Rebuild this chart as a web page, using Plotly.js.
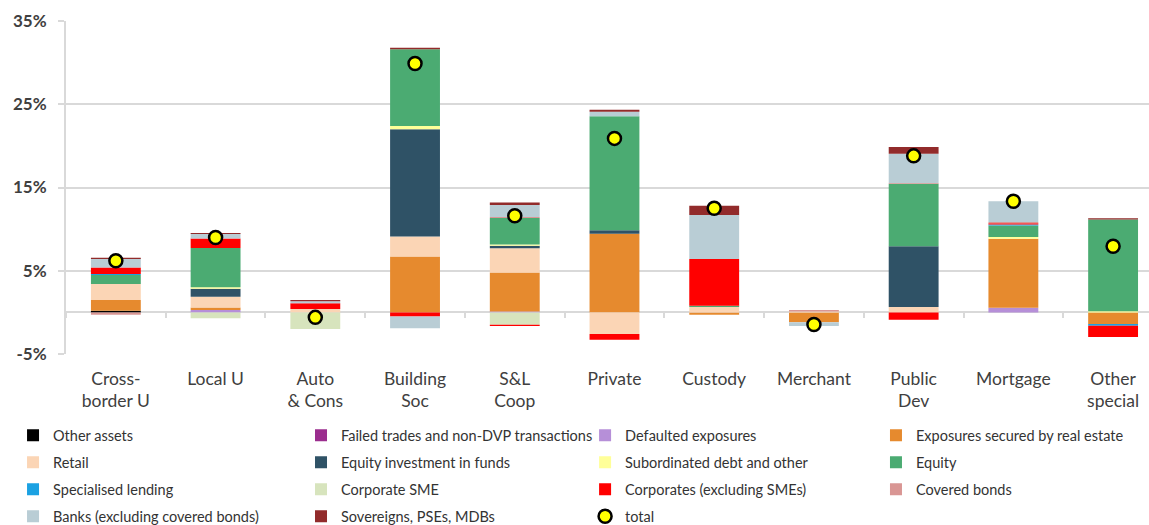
<!DOCTYPE html>
<html>
<head>
<meta charset="utf-8">
<script src="https://cdn.plot.ly/plotly-3.0.1.min.js"></script>
<style>html,body{margin:0;padding:0;background:#fff;}#chart{width:1149px;height:525px;}</style>
</head>
<body>
<div id="chart"></div>
<script>
// ---- DATA ----
const categories = ["Cross-<br>border U", "Local U", "Auto<br>& Cons", "Building<br>Soc", "S&L<br>Coop", "Private", "Custody", "Merchant", "Public<br>Dev", "Mortgage", "Other<br>special"];

const otherAssets          = [0.2, 0, 0, 0, 0, 0, 0, 0, 0, 0, 0];
const failedTrades         = [0, 0, 0, 0, 0, 0, 0, 0, 0, 0, 0];
const defaultedExposures   = [0, 0.3, 0, 0, 0.1, 0, 0, 0, 0, 0.55, 0];
const realEstate           = [1.3, 0.28, 0, 6.7, 4.7, 9.45, -0.3, -1.2, 0, 8.3, -1.4];
const retail               = [1.9, 1.3, 0.4, 2.4, 2.9, -2.6, 0.65, 0.1, 0.65, 0, 0];
const equityFunds          = [0, 0.95, 0, 12.9, 0.3, 0.4, 0, 0, 7.3, 0, 0];
const subordinatedDebt     = [0, 0.2, 0, 0.4, 0.15, 0, 0, 0, 0, 0.2, 0.15];
const equity               = [1.1, 4.7, 0, 9.2, 3.2, 13.7, 0.15, 0, 7.5, 1.4, 11.0];
const specialisedLending   = [0.1, 0, 0, 0, 0, 0, 0, 0, 0, 0.1, -0.2];
const corporateSME         = [0, -0.7, -2.0, 0, -1.5, 0, 0, 0, 0, 0, 0];
const corporates           = [0.8, 1.13, 0.7, -0.5, -0.15, -0.7, 5.6, 0, -0.9, 0.15, -1.35];
const coveredBonds         = [-0.3, 0, 0, 0, 0.1, 0, 0, 0.2, 0.1, 0.15, 0];
const banks                = [1.0, 0.55, 0.25, -1.4, 1.45, 0.55, 5.3, -0.45, 3.5, 2.5, 0];
const sovereigns           = [0.15, 0.12, 0.15, 0.2, 0.3, 0.25, 1.1, 0, 0.8, 0, 0.15];
const total                = [6.2, 9.0, -0.6, 29.9, 11.6, 20.9, 12.5, -1.45, 18.8, 13.35, 7.95];

const yTickValues = [-5, 5, 15, 25, 35];
const yTickLabels = ["-5%", "5%", "15%", "25%", "35%"];

const barSeries = [
  {name: "Other assets", values: otherAssets},
  {name: "Failed trades and non-DVP transactions", values: failedTrades},
  {name: "Defaulted exposures", values: defaultedExposures},
  {name: "Exposures secured by real estate", values: realEstate},
  {name: "Retail", values: retail},
  {name: "Equity investment in funds", values: equityFunds},
  {name: "Subordinated debt and other", values: subordinatedDebt},
  {name: "Equity", values: equity},
  {name: "Specialised lending", values: specialisedLending},
  {name: "Corporate SME", values: corporateSME},
  {name: "Corporates (excluding SMEs)", values: corporates},
  {name: "Covered bonds", values: coveredBonds},
  {name: "Banks (excluding covered bonds)", values: banks},
  {name: "Sovereigns, PSEs, MDBs", values: sovereigns}
];

// ---- STYLE ----
const barColors = ["#000000", "#9b2d8e", "#b68fd8", "#e68a2e", "#fbd5b5", "#2f5266", "#ffff99", "#4bab72", "#1ba1e2", "#d7e4bd", "#ff0000", "#d99694", "#b9cdd5", "#922b2b"];
const legendIds = ["legend", "legend2", "legend3", "legend4"];
const fontFam = "Lato, 'Open Sans', sans-serif";

const traces = barSeries.map((s, i) => ({
  type: "bar",
  name: s.name,
  x: categories,
  y: s.values,
  marker: {color: barColors[i], line: {width: 0}},
  legend: legendIds[i % 4],
  legendgroup: s.name,
  hoverinfo: "name+y"
}));

traces.push({
  type: "scatter",
  mode: "markers",
  name: "total",
  x: categories,
  y: total,
  xaxis: "x2",
  marker: {color: "#ffff00", size: 13, line: {color: "#000000", width: 2.5}},
  legend: legendIds[barSeries.length % 4],
  legendgroup: "total"
});

const xRange = [-0.5, 10.36];
const yRange = [-5, 35];
const gridCol = "#d9d9d9";

function legendAt(x) {
  return {
    x: x, xanchor: "left", y: -0.196, yanchor: "top",
    orientation: "v", tracegroupgap: 5.15,
    bgcolor: "rgba(0,0,0,0)",
    font: {family: fontFam, size: 14.5, color: "#333333"}
  };
}

const layout = {
  width: 1149, height: 525,
  margin: {l: 66, r: 0, t: 21, b: 171, autoexpand: false},
  paper_bgcolor: "#ffffff", plot_bgcolor: "#ffffff",
  barmode: "relative",
  bargap: 0.5,
  showlegend: true,
  xaxis: {
    type: "category", range: xRange, showgrid: false, zeroline: false,
    showline: false, ticks: "", ticklabelstandoff: 12,
    tickfont: {family: fontFam, size: 17.5, color: "#404040"}
  },
  xaxis2: {
    type: "category", overlaying: "x", anchor: "free",
    position: (0 - yRange[0]) / (yRange[1] - yRange[0]),
    range: xRange, showgrid: false, zeroline: false, showline: false,
    ticks: "outside", tickson: "boundaries", ticklen: 5, tickwidth: 2, tickcolor: gridCol,
    showticklabels: false
  },
  yaxis: {
    range: yRange, tickmode: "array", tickvals: yTickValues, ticktext: yTickLabels,
    showgrid: true, gridcolor: gridCol, gridwidth: 2,
    zeroline: true, zerolinecolor: gridCol, zerolinewidth: 2,
    showline: true, linecolor: gridCol, linewidth: 2,
    ticks: "outside", ticklen: 6, tickwidth: 2, tickcolor: gridCol,
    ticklabelstandoff: 8,
    tickfont: {family: fontFam, size: 17, color: "#404040", weight: "bold"}
  },
  legend: legendAt(-0.0489),
  legend2: legendAt(0.2170),
  legend3: legendAt(0.4793),
  legend4: legendAt(0.7479)
};

Plotly.newPlot("chart", traces, layout, {displayModeBar: false, staticPlot: true});
</script>
</body>
</html>
